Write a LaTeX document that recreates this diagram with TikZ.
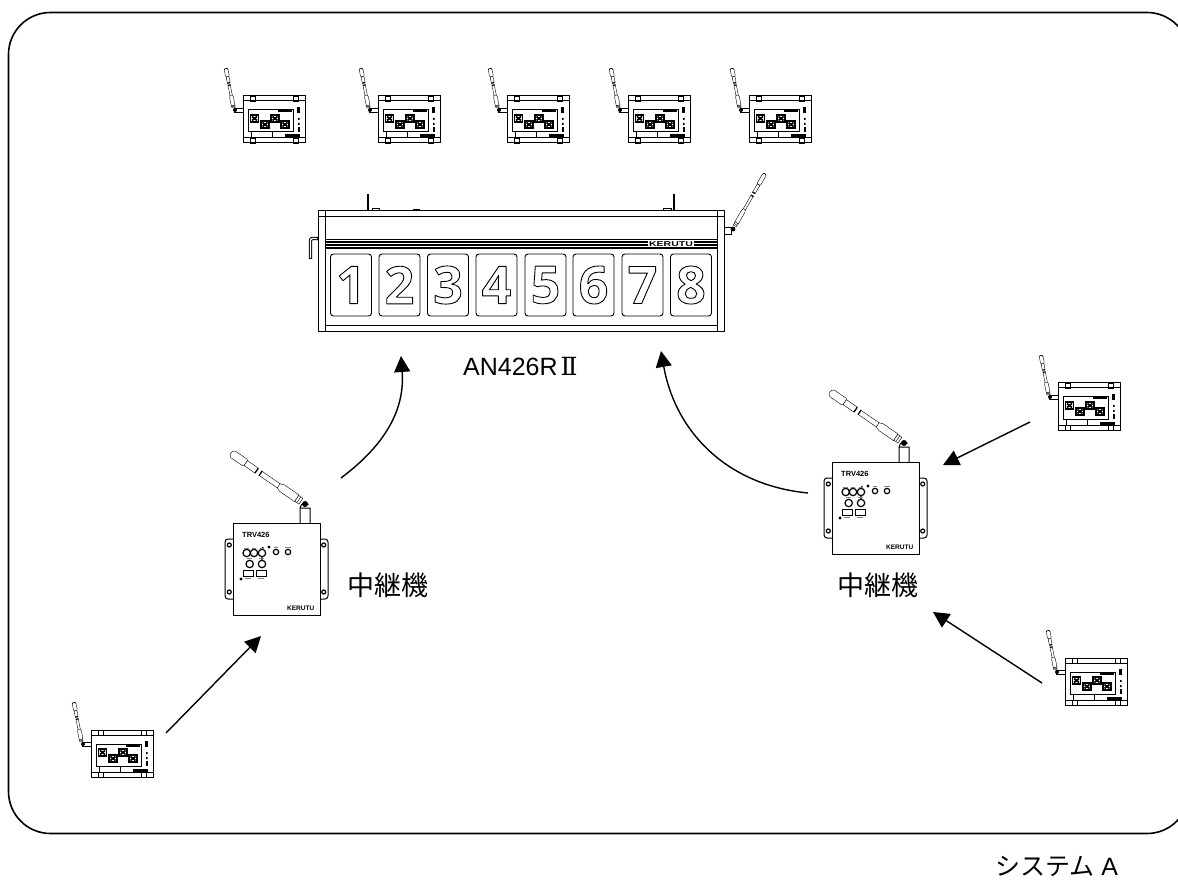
\documentclass[tikz,border=0pt]{standalone}
\usepackage{fontspec}
\setmainfont{Liberation Sans}
\newfontfamily\cjk{Noto Sans CJK JP}
\newfontfamily\digitfont{Open Sans}
\newfontfamily\romanfont{DejaVu Serif}
\usetikzlibrary{arrows.meta}
\newcommand{\outlined}[1]{\special{pdf:code q 1 Tr 0.9 w 1 j}#1\special{pdf:code Q}}
\tikzset{
  thinline/.style={line width=0.4pt},
  thickline/.style={line width=1pt},
  blackdot/.style={fill=black,draw=none},
  panel/.style={draw,line width=0.9pt,rounded corners=3pt,inner sep=0pt,minimum width=41pt,minimum height=62pt,font=\fontsize{52}{52}\selectfont\digitfont\bfseries},
  biglabel/.style={inner sep=0pt,font=\fontsize{25}{28}\selectfont},
  cjklabel/.style={inner sep=0pt,font=\fontsize{27}{30}\selectfont\cjk},
  flow/.style={-{Triangle[length=16pt,width=16pt]},line width=1.4pt},
  antenna/.pic={
    \filldraw[thinline,fill=white,rounded corners=1pt] (90,-1.5) -- (88,-4) -- (72,-4) -- (72,4) -- (88,4) -- (90,1.5) -- cycle;
    \filldraw[thinline,fill=white] (72,-3) rectangle (59,3);
    \filldraw[thinline,fill=white] (54,-2.5) -- (32,-2.5) -- (28,-4) -- (10,-4) -- (10,4) -- (28,4) -- (32,2.5) -- (54,2.5) -- cycle;
    \filldraw[thinline,fill=white] (10,-3.5) rectangle (5,3.5);
    \draw[thinline] (7.5,-3.5) -- (7.5,3.5) (32,-2.5) -- (32,2.5);
    \draw[line width=1.2pt] (58.7,-3) -- (58.7,3) (54,-3) -- (54,3);
  },
  unit/.pic={
    \draw[thickline] (0,0) rectangle (62,47) (0,5) -- (62,5) (0,42) -- (62,42);
    \foreach \cx in {7,50} {
      \draw[thinline] (\cx,0) rectangle +(5,5) (\cx,42) rectangle +(5,5);
    }
    \draw[thickline] (5,14) rectangle (50,36);
    \draw[thinline] (8,36) -- (8,42) (29,36) -- (29,42);
    \fill (42,38.5) rectangle (57,42);
    \foreach \sx/\sy in {7.5/19,18/25,28/19,38/25} {
      \draw[line width=1.3pt] (\sx,\sy) rectangle +(8,7);
      \draw[line width=1.7pt] (\sx+1.5,\sy+1.5) -- +(5,4) (\sx+6.5,\sy+1.5) -- +(-5,4);
    }
    \fill (35,14) rectangle (49,16.5);
    \fill (54,11) rectangle (57,17);
    \fill (55,22) rectangle (56.5,24) (55,27) rectangle (56.5,29);
    \fill (55,31) rectangle (57,36);
    \draw[thinline] (-9,12) rectangle (0,16);
    \pic[rotate=101,scale=0.47] at (-9,14) {antenna};
    \fill[blackdot] (-8,14) circle (2pt);
  },
  relay/.pic={
    \draw[thickline] (67,0) -- (67,-15) -- (77,-15) -- (77,0) (67,-15) arc[start angle=180,end angle=45,radius=5pt];
    \pic[rotate=145.4] at (72,-19) {antenna};
    \fill[blackdot] (72,-19) circle (3pt);
    \foreach \fx in {-8,83} {
      \draw[thickline,rounded corners=3pt] (\fx,16) rectangle +(12,60);
    }
    \fill[white] (0,0) rectangle (87,92);
    \draw[thickline] (0,0) rectangle (87,92);
    \draw[line width=1.2pt] (-3.7,22) circle (2pt) (-3.7,69) circle (2pt) (90.7,22) circle (2pt) (90.7,69) circle (2pt);
    \foreach \kx/\ky in {13.7/30,21/30,29/30,16.7/41,29/41} {
      \draw[line width=1.2pt] (\kx,\ky) circle (3.7pt);
    }
    \draw[line width=1.2pt] (43,29) circle (2.7pt) (55,29) circle (2.7pt) (29,26.4) -- (30,24) (29,37.4) -- (29,33.6);
    \fill[blackdot] (36,24) circle (1.6pt) (8,56) circle (1.6pt);
    \draw[thinline] (10,47) rectangle (20,53) (23,47) rectangle (33,53);
    \draw[thinline,gray] (11,25) -- (16,25) (19,25) -- (23,25) (27,25) -- (31,25) (41,24.5) -- (45,24.5) (52,24.5) -- (58,24.5) (14,35.5) -- (19,35.5) (26,35.5) -- (31,35.5) (12,55) -- (18,55) (25,55) -- (31,55);
    \node[inner sep=0pt,anchor=west,font=\fontsize{7.5}{8}\selectfont\bfseries] (model) at (9,12) {TRV426};
    \node[inner sep=0pt,anchor=west,font=\fontsize{6.5}{7}\selectfont\bfseries] (brand) at (54,85) {KERUTU};
  }
}
\begin{document}
\begin{tikzpicture}[x=1pt,y=-1pt]
\useasboundingbox (0,0) rectangle (1178,882);
\draw[line width=1.6pt,rounded corners=42pt] (8.5,12.5) rectangle (1189,833.5);

\foreach \ux/\uy in {243/96,378/96,507/96,628/96,749/96,1058/383,1065/658,91/730} {
  \pic at (\ux,\uy) {unit};
}
\pic at (233,523) {relay};
\pic at (832,462) {relay};

\draw[thickline] (318,211) rectangle (724,332);
\draw[thickline] (325,211) -- (325,332) (717,211) -- (717,332) (318,217) -- (724,217) (325,326) -- (717,326);
\foreach \sy in {239.5,242,245,248} {
  \draw[line width=1.2pt] (325,\sy) -- (717,\sy);
}
\draw[line width=1.4pt] (368,194) -- (368,211) (674,194) -- (674,211);
\draw[thinline] (372,211) -- (372,208) -- (379,208) -- (379,211) (413,211) -- (413,209) -- (419,209) -- (419,211) (663,211) -- (663,208) -- (671,208) -- (671,211);
\draw[line width=3.4pt,rounded corners=2pt] (310.5,259) -- (310.5,238.5) -- (318,238.5);
\draw[line width=1.3pt,white,rounded corners=2pt] (310.5,258) -- (310.5,238.5) -- (317,238.5);
\node[fill=white,inner sep=1pt,xscale=1.5,font=\fontsize{7}{7}\selectfont\bfseries] (logo) at (671,244) {KERUTU};
\foreach \i/\x in {1/351,2/399.5,3/448,4/496.5,5/545.5,6/593.5,7/642.5,8/691} {
  \node[panel] (digit\i) at (\x,285) {\outlined{\i}};
}
\draw[thinline] (724,227) rectangle (731,234);
\pic[rotate=60,xscale=0.71,yscale=0.5] at (733,229) {antenna};
\fill[blackdot] (733,229) circle (2.4pt);

\node[biglabel,anchor=west] (model) at (463,367) {AN426R\kern3pt{\romanfont Ⅱ}};
\node[cjklabel] (relayleft) at (388,585) {中継機};
\node[cjklabel] (relayright) at (878,585) {中継機};
\node[biglabel,anchor=west] (system) at (995,866) {{\cjk\fontsize{25}{26}\selectfont システム} A};

\coordinate (fromlow) at (166,733);
\coordinate (tolow) at (261,636);
\coordinate (fromleft) at (341,478);
\coordinate (toleft) at (401,356);
\coordinate (fromright) at (808,493);
\coordinate (toright) at (661,351);
\coordinate (fromtop) at (1030,422);
\coordinate (totop) at (943,465);
\coordinate (frombottom) at (1042,683);
\coordinate (tobottom) at (933,612);
\draw[flow] (fromlow) -- (tolow);
\draw[flow] (fromleft) .. controls (385,445) and (405,410) .. (toleft);
\draw[flow] (fromright) .. controls (725,485) and (675,430) .. (toright);
\draw[flow] (fromtop) -- (totop);
\draw[flow] (frombottom) -- (tobottom);
\end{tikzpicture}
\end{document}
